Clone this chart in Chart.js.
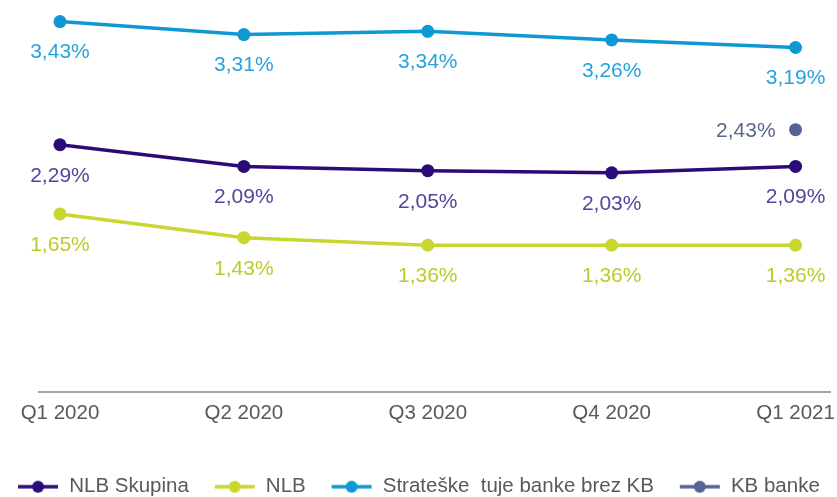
<!DOCTYPE html>
<html>
<head>
<meta charset="utf-8">
<script src="https://cdn.jsdelivr.net/npm/chart.js@4"></script>
<style>
  html, body { margin: 0; padding: 0; background: #fff; }
  #wrap { width: 837px; height: 497px; }
</style>
</head>
<body>
<div id="wrap"><canvas id="chart"></canvas></div>
<script>
// Podaci
const kvartali = ['Q1 2020', 'Q2 2020', 'Q3 2020', 'Q4 2020', 'Q1 2021'];
const nlbSkupina = [2.29, 2.09, 2.05, 2.03, 2.09];
const nlb = [1.65, 1.43, 1.36, 1.36, 1.36];
const strateske = [3.43, 3.31, 3.34, 3.26, 3.19];
const kbBanke = [null, null, null, null, 2.43];

const FONT = '"Liberation Sans", Arial, sans-serif';

// pretvara niz u {x, y} tacke za linearnu x osu
function toPoints(arr) {
    return arr.map((v, i) => ({ x: i, y: v }));
}

// ikonica za legendu: linija sa krugom
function legendIcon(color) {
    const c = document.createElement('canvas');
    c.width = 42;
    c.height = 14;
    const g = c.getContext('2d');
    g.strokeStyle = color;
    g.lineWidth = 3.5;
    g.beginPath();
    g.moveTo(1, 7);
    g.lineTo(41, 7);
    g.stroke();
    g.fillStyle = color;
    g.beginPath();
    g.arc(21, 7, 6, 0, Math.PI * 2);
    g.fill();
    return c;
}

// plugin za ispis vrednosti ispod tacaka
const valueLabels = {
    id: 'valueLabels',
    afterDatasetsDraw(chart) {
        const ctx = chart.ctx;
        ctx.save();
        ctx.font = '21px ' + FONT;
        ctx.textBaseline = 'middle';
        chart.data.datasets.forEach((ds, di) => {
            const meta = chart.getDatasetMeta(di);
            meta.data.forEach((pt, i) => {
                const v = ds.data[i].y;
                if (v === null || v === undefined) return;
                const txt = v.toFixed(2).replace('.', ',') + '%';
                ctx.fillStyle = ds.labelColor;
                if (ds.labelLeft) {
                    ctx.textAlign = 'right';
                    ctx.fillText(txt, pt.x - 20, pt.y + 2);
                } else {
                    ctx.textAlign = 'center';
                    ctx.fillText(txt, pt.x, pt.y + 31);
                }
            });
        });
        ctx.restore();
    }
};

const series = [
    { label: 'NLB Skupina', data: nlbSkupina, color: '#2b0b78', labelColor: '#57429e' },
    { label: 'NLB', data: nlb, color: '#c9d62f', labelColor: '#bccb27' },
    { label: 'Strateške  tuje banke brez KB', data: strateske, color: '#0f98d4', labelColor: '#27a3dc' },
    { label: 'KB banke', data: kbBanke, color: '#546497', labelColor: '#58678e', labelLeft: true }
];

new Chart(document.getElementById('chart').getContext('2d'), {
    type: 'line',
    data: {
        datasets: series.map(s => ({
            label: s.label,
            data: toPoints(s.data),
            borderColor: s.color,
            backgroundColor: s.color,
            pointBackgroundColor: s.color,
            pointBorderWidth: 0,
            pointRadius: 6.5,
            borderWidth: 3.5,
            tension: 0,
            clip: false,
            pointStyle: 'circle',
            legendIcon: legendIcon(s.color),
            labelColor: s.labelColor,
            labelLeft: !!s.labelLeft
        }))
    },
    options: {
        responsive: true,
        maintainAspectRatio: false,
        animation: false,
        layout: { padding: { left: -10, right: -10, top: 14, bottom: -10 } },
        scales: {
            x: {
                type: 'linear',
                min: -0.114,
                max: 4.19,
                afterBuildTicks: s => { s.ticks = kvartali.map((_, i) => ({ value: i })); },
                afterFit: s => {
                    s.height = 59.25;
                    s.paddingLeft = 0;
                    s.paddingRight = 0;
                },
                ticks: {
                    callback: v => kvartali[v],
                    color: '#595959',
                    font: { family: FONT, size: 20.5 },
                    padding: 9,
                    maxRotation: 0,
                    autoSkip: false
                },
                grid: { display: false, drawTicks: false },
                border: { display: true, color: '#a6a6a6', width: 2 }
            },
            y: {
                position: 'left',
                min: 0,
                max: 3.5,
                afterFit: s => { s.width = 49; },
                ticks: { display: false },
                grid: { display: false, drawTicks: false },
                border: { display: false }
            },
            yr: {
                position: 'right',
                min: 0,
                max: 3.5,
                afterFit: s => { s.width = 15; },
                ticks: { display: false },
                grid: { display: false, drawTicks: false },
                border: { display: false }
            }
        },
        plugins: {
            legend: {
                position: 'bottom',
                labels: {
                    usePointStyle: true,
                    pointStyleWidth: 41.75,
                    padding: 25,
                    color: '#595959',
                    font: { family: FONT, size: 20.5 },
                    generateLabels: chart => chart.data.datasets.map((ds, i) => ({
                        text: ds.label,
                        pointStyle: ds.legendIcon,
                        fillStyle: ds.borderColor,
                        strokeStyle: ds.borderColor,
                        lineWidth: 0,
                        fontColor: '#595959',
                        datasetIndex: i,
                        hidden: false
                    }))
                }
            },
            tooltip: { enabled: false }
        }
    },
    plugins: [valueLabels]
});
</script>
</body>
</html>
